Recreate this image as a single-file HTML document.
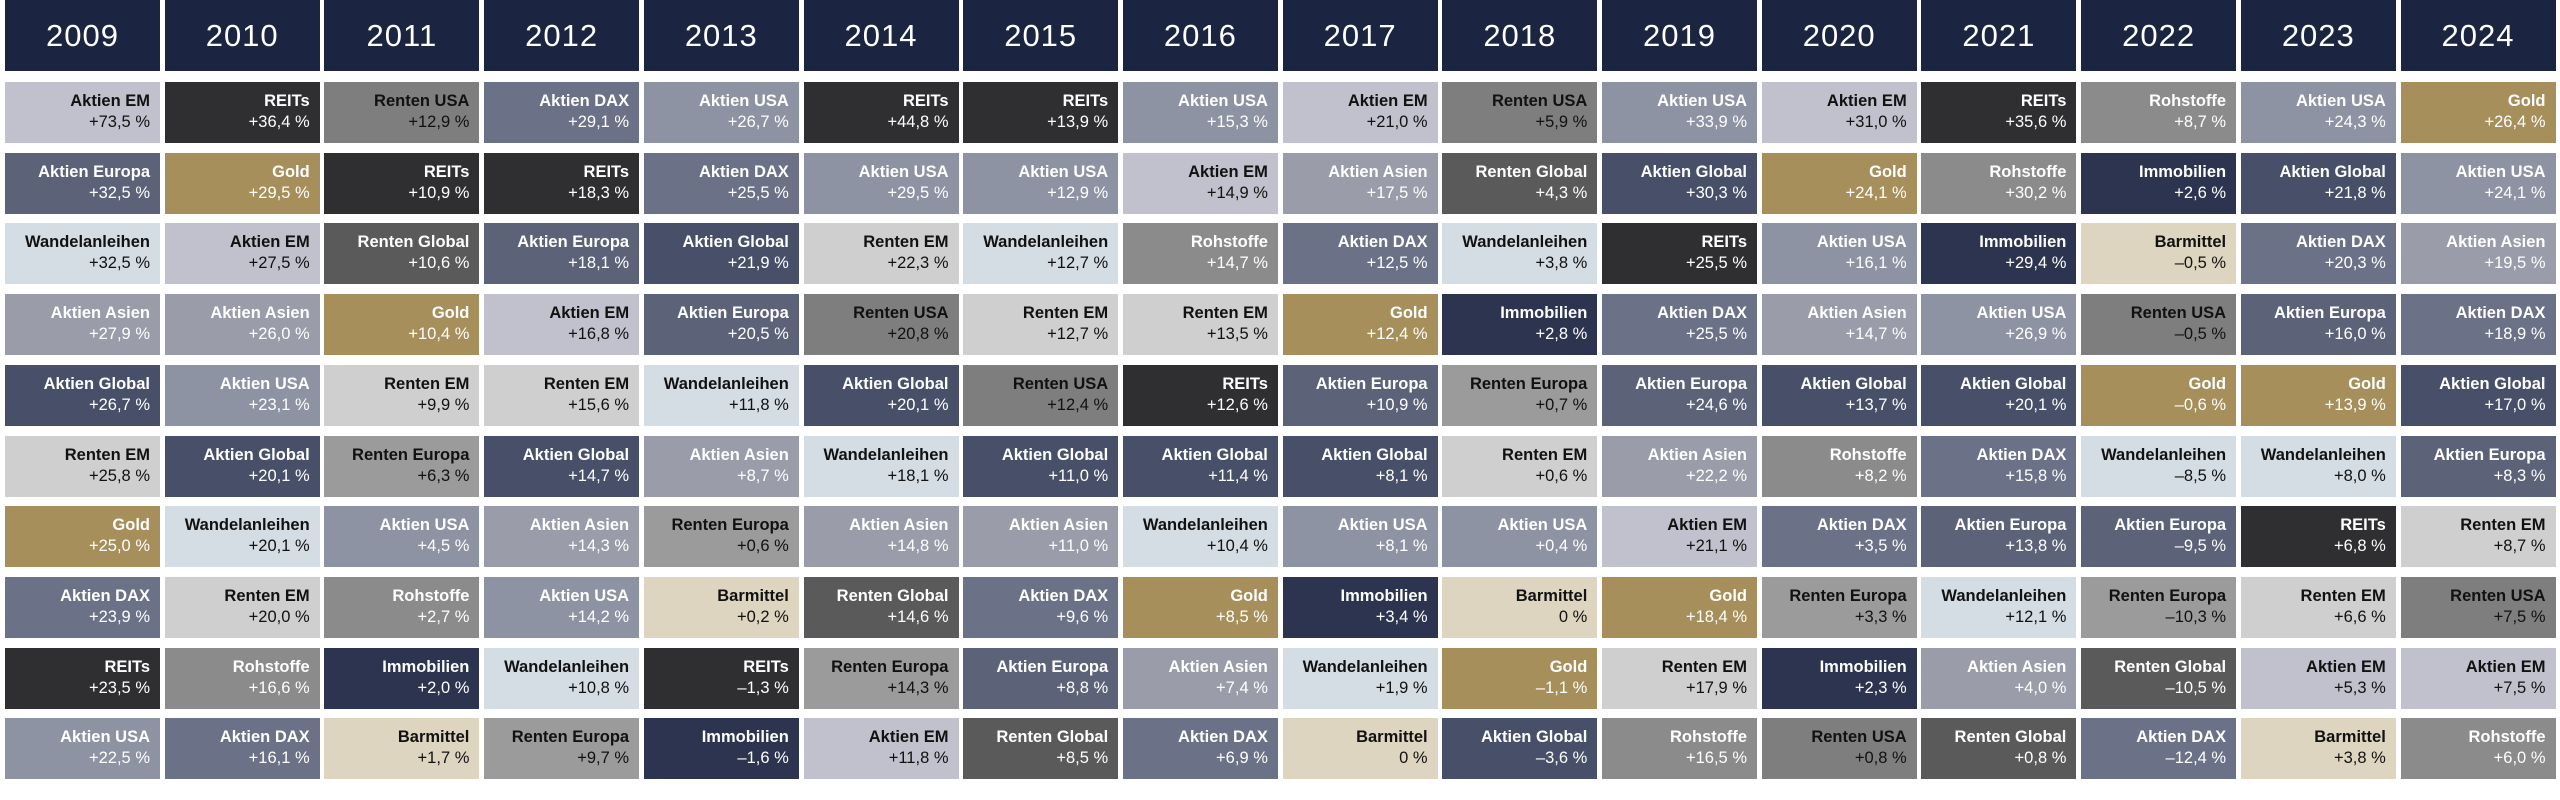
<!DOCTYPE html>
<html><head><meta charset="utf-8">
<style>
body{margin:0;width:2560px;height:800px;background:#fff;position:relative;overflow:hidden;font-family:"Liberation Sans",sans-serif}
.h{position:absolute;top:0;height:71px;background:#1b2440;color:#fff;font-size:31px;display:flex;align-items:center;justify-content:center;letter-spacing:1px}
.c{position:absolute;height:61px;box-sizing:border-box;padding:9px 10px 0 0;text-align:right;font-size:16.5px;line-height:21px}
.c b{display:block;font-weight:bold}
</style></head><body>
<script>
const years=[2009,2010,2011,2012,2013,2014,2015,2016,2017,2018,2019,2020,2021,2022,2023,2024];
const names=[
["Aktien EM","Aktien Europa","Wandelanleihen","Aktien Asien","Aktien Global","Renten EM","Gold","Aktien DAX","REITs","Aktien USA"],
["REITs","Gold","Aktien EM","Aktien Asien","Aktien USA","Aktien Global","Wandelanleihen","Renten EM","Rohstoffe","Aktien DAX"],
["Renten USA","REITs","Renten Global","Gold","Renten EM","Renten Europa","Aktien USA","Rohstoffe","Immobilien","Barmittel"],
["Aktien DAX","REITs","Aktien Europa","Aktien EM","Renten EM","Aktien Global","Aktien Asien","Aktien USA","Wandelanleihen","Renten Europa"],
["Aktien USA","Aktien DAX","Aktien Global","Aktien Europa","Wandelanleihen","Aktien Asien","Renten Europa","Barmittel","REITs","Immobilien"],
["REITs","Aktien USA","Renten EM","Renten USA","Aktien Global","Wandelanleihen","Aktien Asien","Renten Global","Renten Europa","Aktien EM"],
["REITs","Aktien USA","Wandelanleihen","Renten EM","Renten USA","Aktien Global","Aktien Asien","Aktien DAX","Aktien Europa","Renten Global"],
["Aktien USA","Aktien EM","Rohstoffe","Renten EM","REITs","Aktien Global","Wandelanleihen","Gold","Aktien Asien","Aktien DAX"],
["Aktien EM","Aktien Asien","Aktien DAX","Gold","Aktien Europa","Aktien Global","Aktien USA","Immobilien","Wandelanleihen","Barmittel"],
["Renten USA","Renten Global","Wandelanleihen","Immobilien","Renten Europa","Renten EM","Aktien USA","Barmittel","Gold","Aktien Global"],
["Aktien USA","Aktien Global","REITs","Aktien DAX","Aktien Europa","Aktien Asien","Aktien EM","Gold","Renten EM","Rohstoffe"],
["Aktien EM","Gold","Aktien USA","Aktien Asien","Aktien Global","Rohstoffe","Aktien DAX","Renten Europa","Immobilien","Renten USA"],
["REITs","Rohstoffe","Immobilien","Aktien USA","Aktien Global","Aktien DAX","Aktien Europa","Wandelanleihen","Aktien Asien","Renten Global"],
["Rohstoffe","Immobilien","Barmittel","Renten USA","Gold","Wandelanleihen","Aktien Europa","Renten Europa","Renten Global","Aktien DAX"],
["Aktien USA","Aktien Global","Aktien DAX","Aktien Europa","Gold","Wandelanleihen","REITs","Renten EM","Aktien EM","Barmittel"],
["Gold","Aktien USA","Aktien Asien","Aktien DAX","Aktien Global","Aktien Europa","Renten EM","Renten USA","Aktien EM","Rohstoffe"]];
const values=[
[73.5,32.5,32.5,27.9,26.7,25.8,25.0,23.9,23.5,22.5],
[36.4,29.5,27.5,26.0,23.1,20.1,20.1,20.0,16.6,16.1],
[12.9,10.9,10.6,10.4,9.9,6.3,4.5,2.7,2.0,1.7],
[29.1,18.3,18.1,16.8,15.6,14.7,14.3,14.2,10.8,9.7],
[26.7,25.5,21.9,20.5,11.8,8.7,0.6,0.2,-1.3,-1.6],
[44.8,29.5,22.3,20.8,20.1,18.1,14.8,14.6,14.3,11.8],
[13.9,12.9,12.7,12.7,12.4,11.0,11.0,9.6,8.8,8.5],
[15.3,14.9,14.7,13.5,12.6,11.4,10.4,8.5,7.4,6.9],
[21.0,17.5,12.5,12.4,10.9,8.1,8.1,3.4,1.9,0],
[5.9,4.3,3.8,2.8,0.7,0.6,0.4,0,-1.1,-3.6],
[33.9,30.3,25.5,25.5,24.6,22.2,21.1,18.4,17.9,16.5],
[31.0,24.1,16.1,14.7,13.7,8.2,3.5,3.3,2.3,0.8],
[35.6,30.2,29.4,26.9,20.1,15.8,13.8,12.1,4.0,0.8],
[8.7,2.6,-0.5,-0.5,-0.6,-8.5,-9.5,-10.3,-10.5,-12.4],
[24.3,21.8,20.3,16.0,13.9,8.0,6.8,6.6,5.3,3.8],
[26.4,24.1,19.5,18.9,17.0,8.3,8.7,7.5,7.5,6.0]];
const colors={"Aktien EM":["#c0c1cc","#111"],"REITs":["#2f2f31","#fff"],"Renten USA":["#7e7e7e","#111"],"Aktien Europa":["#5c6379","#fff"],"Gold":["#a68f5a","#fff"],"Wandelanleihen":["#d4dce4","#111"],"Renten Global":["#5a5a5b","#fff"],"Aktien Asien":["#9a9ca9","#fff"],"Aktien Global":["#475068","#fff"],"Renten EM":["#cfcfcf","#111"],"Aktien DAX":["#6b7186","#fff"],"Aktien USA":["#8e93a3","#fff"],"Rohstoffe":["#8b8b8c","#fff"],"Immobilien":["#2d3450","#fff"],"Barmittel":["#ddd5bf","#111"],"Renten Europa":["#9b9b9b","#111"]};
const colX=i=>5+159.7*i, rowY=r=>82+70.7*r;
function fmt(v){if(v===0)return"0 %";const s=Math.abs(v).toFixed(1).replace(".",",");return(v>0?"+":"–")+s+" %";}
years.forEach((y,i)=>{
  const h=document.createElement('div');h.className='h';
  
  
  h.style.left=colX(i)+'px';h.style.width='155px';h.textContent=y;document.body.appendChild(h);
  names[i].forEach((n,r)=>{
    const c=document.createElement('div');c.className='c';
    
    
    const col=colors[n];
    c.style.left=colX(i)+'px';c.style.width='155px';c.style.top=rowY(r)+'px';
    c.style.background=col[0];c.style.color=col[1];
    c.innerHTML='<b>'+n+'</b>'+fmt(values[i][r]);
    document.body.appendChild(c);
  });
});
</script>
</body></html>
